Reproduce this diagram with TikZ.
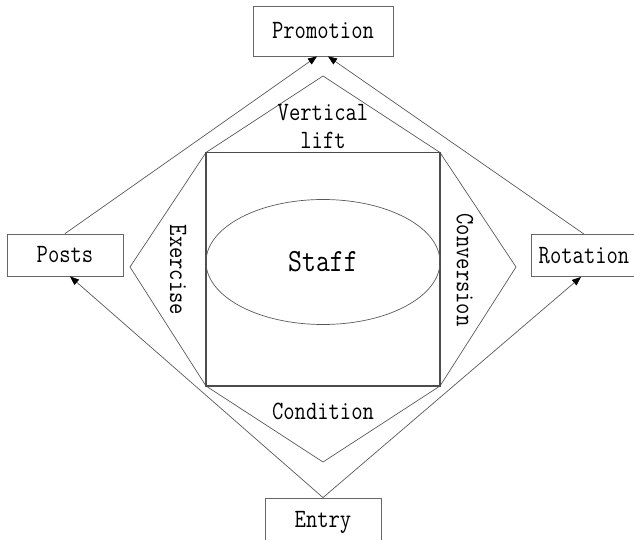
\documentclass[tikz,border=0pt]{standalone}
\usetikzlibrary{arrows.meta,shapes.geometric}
\newcommand{\tx}[1]{\scalebox{1}[1.2]{#1}}
\begin{document}
\begin{tikzpicture}[x=1pt,y=-1pt,
  lbl/.style={font=\fontsize{22}{26}\selectfont\ttfamily, text=black, inner sep=0pt, align=center},
  boxnode/.style={draw=black!60, line width=0.8pt, fill=white, inner sep=0pt, font=\fontsize{22}{26}\selectfont\ttfamily},
  edge/.style={draw=black!65, line width=0.7pt},
  arr/.style={edge, -{Triangle[length=9pt,width=7pt,fill=black,color=black]}},
  shapeline/.style={draw=black!65, line width=0.7pt},
  sqline/.style={draw=black!70, line width=1.1pt}]
\useasboundingbox (0,0) rectangle (634,540);
% boxes
\node[boxnode, minimum width=140pt, minimum height=50pt] (promo) at (323,31) {\tx{Promotion}};
\node[boxnode, minimum width=116pt, minimum height=42pt] (posts) at (65,255) {\tx{Posts}};
\node[boxnode, minimum width=106pt, minimum height=42pt] (rot) at (584,255.5) {\tx{Rotation}};
\node[boxnode, minimum width=116pt, minimum height=48pt] (entry) at (323,522) {\tx{Entry}};
% octagon through square corners
\coordinate (ot) at (323,76);
\coordinate (or) at (516,267);
\coordinate (ob) at (323,462);
\coordinate (ol) at (130,267);
\coordinate (stl) at (206,152.5);
\coordinate (str) at (440,152.5);
\coordinate (sbr) at (440,386);
\coordinate (sbl) at (206,386);
\draw[shapeline] (ot) -- (stl) -- (ol) -- (sbl) -- (ob) -- (sbr) -- (or) -- (str) -- cycle;
\draw[sqline] (stl) rectangle (sbr);
\node[draw=black!65, line width=0.7pt, ellipse, minimum width=234pt, minimum height=125pt, inner sep=0pt, font=\fontsize{27}{30}\selectfont\ttfamily] (staff) at (323,262) {\tx{Staff}};
% connectors
\draw[arr] (posts.north) -- ([xshift=-6pt]promo.south);
\draw[arr] (rot.north) -- ([xshift=5pt]promo.south);
\draw[arr] (entry.north) -- ([xshift=5pt]posts.south);
\draw[arr] (entry.north) -- ([xshift=-3pt]rot.south);
% labels
\node[lbl] (vl) at (323,127) {\tx{Vertical}\\[2pt]\tx{lift}};
\node[lbl, rotate=-90] (ex) at (178,270) {\tx{Exercise}};
\node[lbl, rotate=-90] (cv) at (465,270) {\tx{Conversion}};
\node[lbl] (cd) at (323,411) {\tx{Condition}};
\end{tikzpicture}
\end{document}
